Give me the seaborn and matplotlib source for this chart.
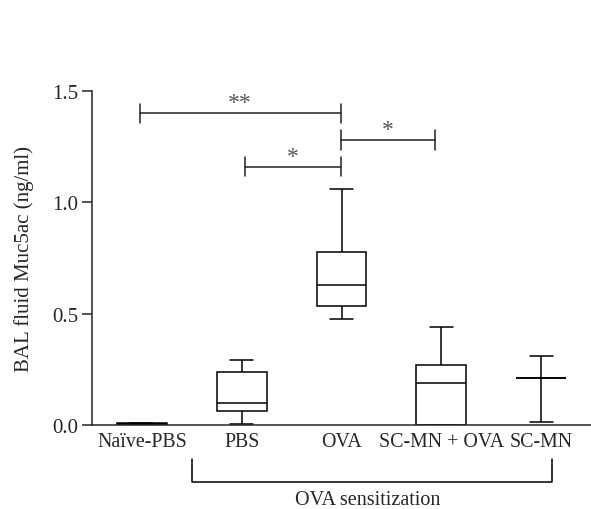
import pandas as pd
import matplotlib
matplotlib.use("Agg")
import matplotlib.pyplot as plt
import seaborn as sns

# groups and five-number summaries (min, q1, median, q3, max)
groups = ["Naïve-PBS", "PBS", "OVA", "SC-MN + OVA", "SC-MN"]
naive_pbs = [0.0, 0.003, 0.005, 0.007, 0.009]
pbs = [0.003, 0.064, 0.099, 0.24, 0.29]
ova = [0.476, 0.536, 0.63, 0.778, 1.06]
scmn_ova = [0.0, 0.0, 0.189, 0.269, 0.439]
scmn = [0.015, 0.211, 0.211, 0.211, 0.31]

# significance brackets: (x start, x end, height, label)
sig_brackets = [(-0.02, 1.99, 1.40, "**"),
                (1.03, 1.99, 1.16, "*"),
                (1.99, 2.94, 1.28, "*")]

y_ticks = [0.0, 0.5, 1.0, 1.5]

values = [naive_pbs, pbs, ova, scmn_ova, scmn]
df = pd.DataFrame({
    "group": [g for g, v in zip(groups, values) for _ in v],
    "value": [x for v in values for x in v],
})

sns.set_style("ticks")
plt.rcParams["font.family"] = ["Liberation Serif", "DejaVu Serif"]

fig = plt.figure(figsize=(5.91, 5.10), dpi=100)
ax = fig.add_axes([92 / 591, 84 / 510, 499 / 591, 334 / 510])

sns.boxplot(data=df, x="group", y="value", order=groups, whis=(0, 100),
            width=0.5, color="white", linecolor="black", linewidth=1.1,
            capwidths=0.23, ax=ax)

ax.set_ylim(0, 1.5)
ax.set_xlim(-0.5, 4.5)
ax.set_yticks(y_ticks)
ax.set_yticklabels([f"{t:.1f}" for t in y_ticks])
ax.set_xlabel("")
ax.set_ylabel("BAL fluid Muc5ac (ng/ml)", fontsize=15, labelpad=13)
ax.tick_params(axis="y", length=7, width=1.1, labelsize=15, pad=3)
ax.tick_params(axis="x", length=0, labelsize=14.3, pad=5)
sns.despine(ax=ax)
for s in ["left", "bottom"]:
    ax.spines[s].set_linewidth(1.1)

# significance markers
tick_h = 0.043
for x0, x1, h, lab in sig_brackets:
    ax.plot([x0, x1], [h, h], color="#222222", lw=1.1)
    ax.plot([x0, x0], [h - tick_h, h + tick_h], color="#222222", lw=1.1)
    ax.plot([x1, x1], [h - tick_h, h + tick_h], color="#222222", lw=1.1)
    ax.text((x0 + x1) / 2, h + 0.0, lab, ha="center", va="bottom",
            fontsize=17, color="#555555")

# OVA sensitization bracket below the axis
ax.plot([0.5, 0.5, 4.11, 4.11], [-0.153, -0.256, -0.256, -0.153],
        color="black", lw=1.1, clip_on=False)
ax.text(2.26, -0.335, "OVA sensitization", ha="center", va="center",
        fontsize=14.5, clip_on=False)

fig.savefig("out.png", dpi=100)
